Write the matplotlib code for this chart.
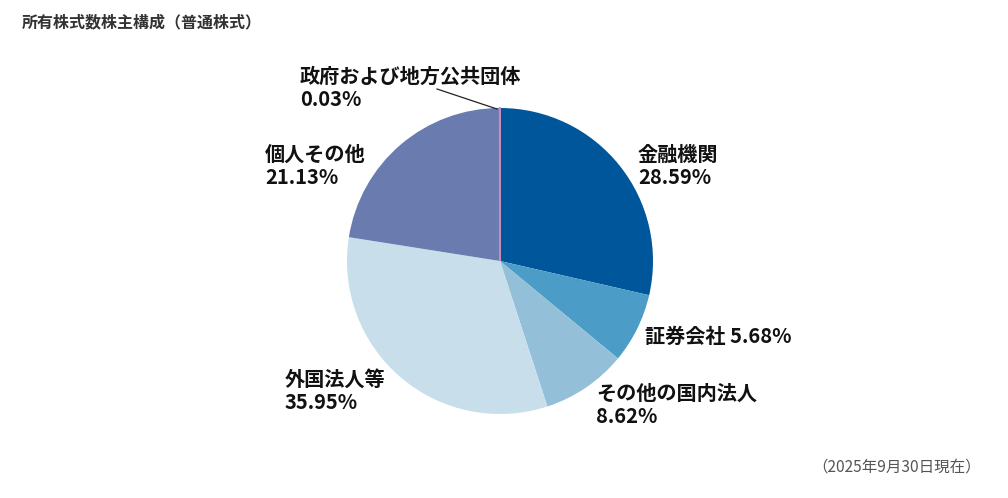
import matplotlib
matplotlib.use("Agg")
import matplotlib.pyplot as plt

plt.rcParams['font.family'] = ['Noto Sans CJK JP', 'DejaVu Sans']

# data (clockwise from top)
categories = ["金融機関", "証券会社", "その他の国内法人", "外国法人等", "個人その他", "政府および地方公共団体"]
shares = [28.59, 5.68, 8.62, 35.95, 21.13, 0.03]          # printed percentages
# the wedges in the source image are not drawn exactly to the printed
# numbers; these are the sizes
wedge_shares = [28.59, 7.4, 9.0, 32.5, 22.48, 0.03]
colors = ["#00569b", "#4b9dc8", "#93bfd8", "#c8dfeb", "#6a7bb0", "#c98bb9"]

title = "所有株式数株主構成（普通株式）"
note = "（2025年9月30日現在）"

W, H = 1008, 498
fig = plt.figure(figsize=(W / 100, H / 100), dpi=100)

cx, cy, r = 500, 261, 153
ax = fig.add_axes([(cx - r) / W, (H - cy - r) / H, 2 * r / W, 2 * r / H])
wedges, _ = ax.pie(wedge_shares, colors=colors, startangle=90, counterclock=False,
                   radius=1.0, wedgeprops=dict(linewidth=0))
# make the tiny slice visible as a thin line, like the original
wedges[-1].set_edgecolor(colors[-1])
wedges[-1].set_linewidth(1.3)
ax.set_xlim(-1, 1)
ax.set_ylim(-1, 1)
ax.set_aspect("equal")
ax.axis("off")


def px(x, y):
    # pixel position -> pie data coords
    return (x - cx) / r, (cy - y) / r


# label positions (pixel, left edge / vertical center)
label_pos = [(638, 166), (645, 336), (596, 405), (285, 391), (265, 166), (300, 88)]
for i, (cat, val) in enumerate(zip(categories, shares)):
    if cat == "証券会社":
        txt = f"{cat} {val:.2f}%"
    else:
        txt = f"{cat}\n{val:.2f}%"
    x, y = px(*label_pos[i])
    ax.text(x, y, txt, ha="left", va="center", fontsize=14.5, fontweight="bold",
            color="#111111", linespacing=1.1, clip_on=False)

# leader line for tiny slice
x0, y0 = px(437, 89)
x1, y1 = px(497, 109)
ax.plot([x0, x1], [y0, y1], color="#222222", linewidth=0.9, clip_on=False)

fig.text(22 / W, 1 - 22 / H, title, ha="left", va="center", fontsize=11.5,
         fontweight="bold", color="#333333")
fig.text(981 / W, 1 - 467 / H, note, ha="right", va="center", fontsize=11.2,
         color="#555555")

fig.savefig("out.png", dpi=100)
